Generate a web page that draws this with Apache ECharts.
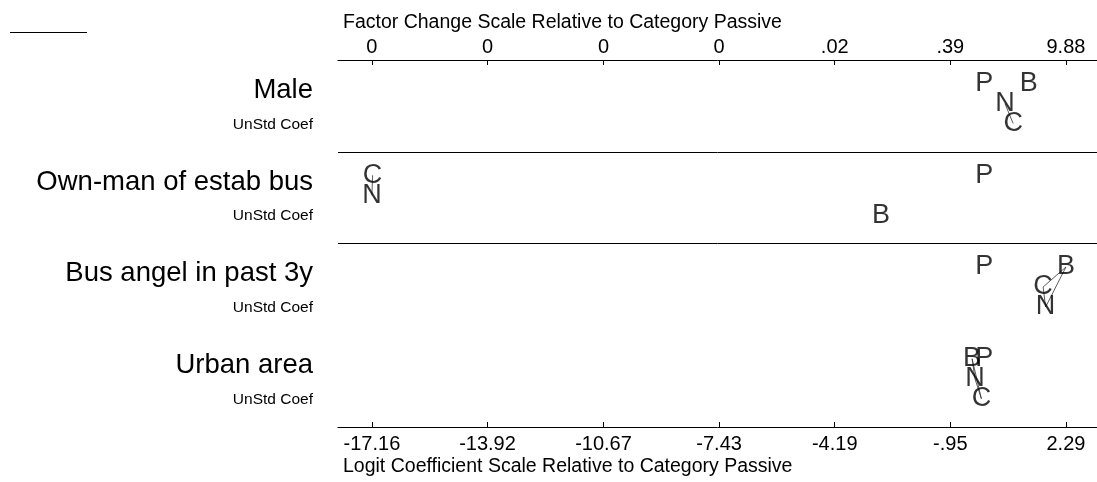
<!DOCTYPE html>
<html>
<head>
<meta charset="utf-8">
<script src="https://cdn.jsdelivr.net/npm/echarts@6/dist/echarts.min.js"></script>
<style>html,body{margin:0;padding:0;background:#fff;}#chart{width:1097px;height:482px;}</style>
</head>
<body>
<div id="chart"></div>
<script>
// ---- data ----
var variables = ['Male', 'Own-man of estab bus', 'Bus angel in past 3y', 'Urban area'];
var subLabel = 'UnStd Coef';
var outcomes = ['P', 'N', 'B', 'C'];
// logit coefficients relative to Passive (P is base = 0)
var coefP = [0, 0, 0, 0];
var coefN = [0.58, -17.16, 1.72, -0.26];
var coefB = [1.25, -2.89, 2.29, -0.34];
var coefC = [0.81, -17.14, 1.65, -0.08];
// vertical stacking level of each letter inside its row (0 = top)
var levelP = [0, 0, 0, 0];
var levelN = [1, 1, 2, 1];
var levelB = [0, 2, 0, 0];
var levelC = [2, 0, 1, 2];
// connected (non-significant) pairs: [row, from, to]
var links = [[0,'N','C'],[1,'C','N'],[2,'B','C'],[2,'B','N'],[2,'C','N'],[3,'B','N'],[3,'N','C'],[3,'B','C']];
// ticks
var tickValues = [-17.16, -13.92, -10.67, -7.43, -4.19, -0.95, 2.29];
var logitTickLabels = ['-17.16', '-13.92', '-10.67', '-7.43', '-4.19', '-.95', '2.29'];
var factorTickLabels = ['0', '0', '0', '0', '.02', '.39', '9.88'];
var bottomTitle = 'Logit Coefficient Scale Relative to Category Passive';
var topTitle = 'Factor Change Scale Relative to Category Passive';

// ---- build ----
var coefs = {P: coefP, N: coefN, B: coefB, C: coefC};
var levels = {P: levelP, N: levelN, B: levelB, C: levelC};
var levelOffset = [0.256, 0.474, 0.692];
function pos(row, o) { return [coefs[o][row], row + levelOffset[levels[o][row]]]; }

var letterData = [];
variables.forEach(function (v, r) {
  outcomes.forEach(function (o) {
    letterData.push({value: pos(r, o), name: o});
  });
});
var lineData = links.map(function (l) {
  return {coords: [pos(l[0], l[1]), pos(l[0], l[2])]};
});
function tickLabel(arr) {
  return function (val) {
    var best = 0, d = Infinity;
    tickValues.forEach(function (t, i) { if (Math.abs(t - val) < d) { d = Math.abs(t - val); best = i; } });
    return arr[best];
  };
}
var font = 'Liberation Sans, Arial, sans-serif';
var axisCommon = {
  type: 'value', min: -18.11, max: 3.16,
  axisLine: {show: true, onZero: false, lineStyle: {color: '#000', width: 1}},
  axisTick: {show: true, inside: true, length: 5, customValues: tickValues, lineStyle: {color: '#000'}},
  splitLine: {show: false}
};
var chart = echarts.init(document.getElementById('chart'));
chart.setOption({
  animation: false,
  backgroundColor: '#fff',
  textStyle: {fontFamily: font},
  title: [
    {text: topTitle, left: 343, top: 13, padding: 0, textStyle: {fontSize: 19.5, fontWeight: 'normal', color: '#000', fontFamily: font}},
    {text: bottomTitle, left: 343, top: 457, padding: 0, textStyle: {fontSize: 19.5, fontWeight: 'normal', color: '#000', fontFamily: font}}
  ],
  graphic: [{type: 'line', shape: {x1: 10, y1: 32.5, x2: 87, y2: 32.5}, style: {stroke: '#000', lineWidth: 1.2}}],
  grid: {left: 338, right: 0, top: 60, bottom: 55},
  xAxis: [
    Object.assign({}, axisCommon, {position: 'bottom',
      axisLabel: {customValues: tickValues, formatter: tickLabel(logitTickLabels), color: '#000', fontSize: 20, margin: 7, fontFamily: font}}),
    Object.assign({}, axisCommon, {position: 'top',
      axisLabel: {customValues: tickValues, formatter: tickLabel(factorTickLabels), color: '#000', fontSize: 20, margin: 3, fontFamily: font}})
  ],
  yAxis: {
    type: 'value', min: 0, max: 4, inverse: true,
    axisLine: {show: false}, axisTick: {show: false}, splitLine: {show: false},
    axisLabel: {
      customValues: [0.5, 1.5, 2.5, 3.5], margin: 25, align: 'right',
      formatter: function (v) { return '{a|' + variables[Math.floor(v)] + '}\n{b|' + subLabel + '}'; },
      rich: {
        a: {fontSize: 27.5, lineHeight: 37, color: '#000', align: 'right', fontFamily: font},
        b: {fontSize: 15.5, lineHeight: 31, color: '#000', align: 'right', fontFamily: font}
      }
    }
  },
  series: [
    {
      type: 'lines', coordinateSystem: 'cartesian2d', xAxisIndex: 0, yAxisIndex: 0,
      data: lineData, lineStyle: {color: '#333', width: 0.8, opacity: 1}, silent: true, z: 1,
      markLine: {
        silent: true, symbol: 'none', label: {show: false},
        lineStyle: {color: '#000', width: 1, type: 'solid'},
        data: [{yAxis: 1}, {yAxis: 2}]
      }
    },
    {
      type: 'scatter', xAxisIndex: 0, yAxisIndex: 0, data: letterData,
      symbolSize: 1, itemStyle: {color: 'rgba(0,0,0,0)'}, z: 3,
      label: {show: true, position: 'inside', formatter: function (p) { return p.name; },
        fontSize: 27, color: '#000', fontFamily: font}
    }
  ]
});
</script>
</body>
</html>
